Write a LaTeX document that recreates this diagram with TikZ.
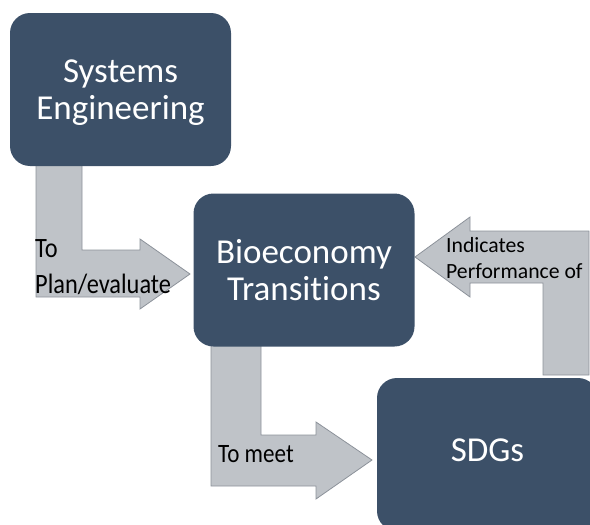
\documentclass[tikz,border=0pt]{standalone}
\usepackage{fontspec}
\setmainfont{Carlito}[Ligatures=NoCommon]
\newfontfamily\condfont{Carlito}[FakeStretch=0.87, Ligatures=NoCommon]
\usepackage{xcolor}
\usetikzlibrary{calc, positioning}
\definecolor{boxblue}{HTML}{3C5068}
\definecolor{arrowgray}{HTML}{BFC3C8}
\definecolor{arrowedge}{HTML}{8C929A}
\tikzset{stagebox/.style={rectangle, rounded corners=20pt, fill=boxblue, text=white, minimum width=221pt, minimum height=153pt, inner sep=0pt, align=center, font=\fontsize{35}{37}\selectfont},
%block arrows between the boxes
bentarrow/.style={fill=arrowgray, draw=arrowedge, line width=0.8pt, line join=miter},
arrowtext/.style={anchor=base west, inner sep=0pt, align=left, text=black}}

\begin{document}
\begin{tikzpicture}[x=1pt,y=-1pt]
 \useasboundingbox (0,0) rectangle (590,525);

 \draw[bentarrow] (36,160) -- (36,297) -- (140,297) -- (140,309) -- (190,274) -- (140,239) -- (140,250) -- (82,250) -- (82,160) -- cycle;
 \draw[bentarrow] (211,340) -- (211,486) -- (316,486) -- (316,499) -- (372,460) -- (316,422) -- (316,435) -- (261,435) -- (261,340) -- cycle;
 \draw[bentarrow] (543,375) -- (543,283) -- (470,283) -- (470,297) -- (415,257) -- (470,217) -- (470,231) -- (589,231) -- (589,375) -- cycle;

 \node[stagebox, text depth=0pt] (sys) at (120.5,89.5) {Systems\\Engineering};
 \node[stagebox, text depth=0pt] (bio) at (304,270) {Bioeconomy\\Transitions};
 \node[stagebox, text depth=8pt] (sdg) at (487.5,454.5) {SDGs};

 % base anchor sits on the last line
 \node[arrowtext, font=\condfont\fontsize{28}{36}\selectfont] (lblplan) at (35,293) {To\\Plan/evaluate};
 \node[arrowtext, font=\fontsize{21.7}{26}\selectfont] (lblind) at (446,278) {Indicates\\Performance of};
 \node[arrowtext, font=\condfont\fontsize{26.5}{30}\selectfont] (lblmeet) at (218,462) {To meet};

\end{tikzpicture}
\end{document}
